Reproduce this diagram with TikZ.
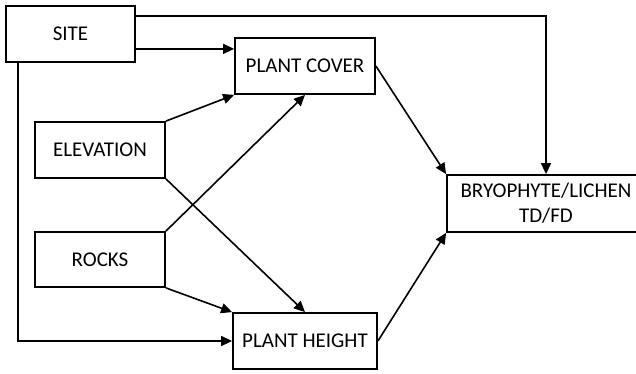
\documentclass[tikz,border=0pt]{standalone}
\usepackage{fontspec}
\setmainfont{Carlito}
\usetikzlibrary{arrows.meta,calc}
\begin{document}
\begin{tikzpicture}[x=1pt,y=-1pt,
  box/.style={draw, line width=1.8pt, inner sep=0pt, font=\fontsize{21}{25}\selectfont, align=center},
  conn/.style={line width=1.6pt, -{Triangle[length=11pt,width=10pt]}}]
\useasboundingbox (0,0) rectangle (636,374);
\clip (0,0) rectangle (636,374);
\fill[white] (0,0) rectangle (636,374);
\node[box, minimum width=129pt, minimum height=56pt] (site) at (70.5,34) {SITE};
\node[box, minimum width=140pt, minimum height=56pt] (cover) at (305,66) {PLANT COVER};
\node[box, minimum width=130pt, minimum height=56pt] (elev) at (100,150) {ELEVATION};
\node[box, minimum width=130pt, minimum height=55pt] (rocks) at (100,259.5) {ROCKS};
\node[box, minimum width=144pt, minimum height=56pt] (height) at (305,341) {PLANT HEIGHT};
\node[box, minimum width=198pt, minimum height=57pt] (bryo) at (546,203.5) {BRYOPHYTE/LICHEN\\TD/FD};
\coordinate (s1) at ($(site.north east)+(0,11)$);
\coordinate (s2) at ($(site.south east)+(0,-14)$);
\coordinate (s3) at ($(site.south west)+(13,0)$);
\draw[conn] (s1) -| (bryo.north);
\draw[conn] (s2) -- (s2 -| cover.west);
\draw[conn] (s3) |- (height.west);
\draw[conn] (elev.north east) -- (cover.south west);
\draw[conn] (elev.south east) -- (height.north);
\draw[conn] (rocks.north east) -- (cover.south);
\draw[conn] (rocks.south east) -- (height.north west);
\draw[conn] (cover.east) -- (bryo.north west);
\draw[conn] (height.east) -- (bryo.south west);
\end{tikzpicture}
\end{document}
